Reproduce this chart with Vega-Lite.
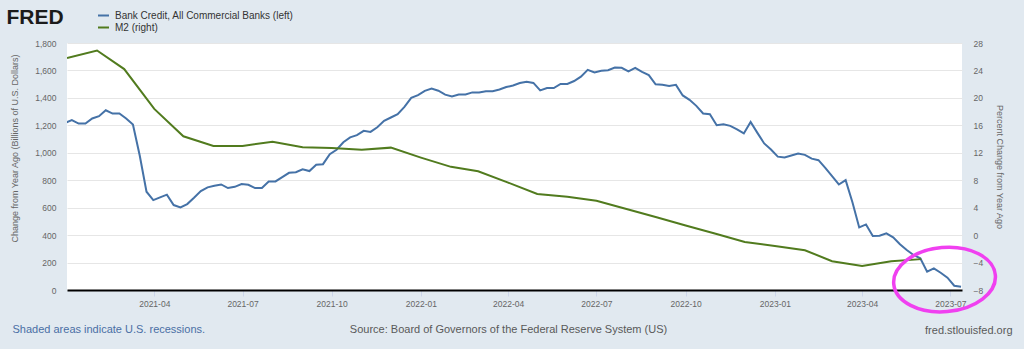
{
  "$schema": "https://vega.github.io/schema/vega-lite/v6.json",
  "width": 895,
  "height": 247,
  "autosize": {"type": "none"},
  "padding": {"left": 67, "top": 43, "right": 62, "bottom": 59},
  "background": "#e1e9f0",
  "config": {
    "font": "Liberation Sans",
    "view": {"fill": "#ffffff", "stroke": null},
    "axis": {"labelFont": "Liberation Sans", "titleFont": "Liberation Sans", "labelColor": "#666666", "titleColor": "#666666", "titleFontWeight": "normal", "labelFontSize": 8.5, "titleFontSize": 9}
  },
  "datasets": {
    "bank": [
      {"date": "2020-12-30", "credit": 1218}, {"date": "2021-01-06", "credit": 1238}, {"date": "2021-01-13", "credit": 1213}, {"date": "2021-01-20", "credit": 1213},
      {"date": "2021-01-27", "credit": 1250}, {"date": "2021-02-03", "credit": 1267}, {"date": "2021-02-10", "credit": 1310}, {"date": "2021-02-17", "credit": 1286},
      {"date": "2021-02-24", "credit": 1286}, {"date": "2021-03-03", "credit": 1250}, {"date": "2021-03-10", "credit": 1206}, {"date": "2021-03-17", "credit": 980},
      {"date": "2021-03-24", "credit": 716}, {"date": "2021-03-31", "credit": 655}, {"date": "2021-04-07", "credit": 675}, {"date": "2021-04-14", "credit": 695},
      {"date": "2021-04-21", "credit": 619}, {"date": "2021-04-28", "credit": 602}, {"date": "2021-05-05", "credit": 626}, {"date": "2021-05-12", "credit": 672},
      {"date": "2021-05-19", "credit": 721}, {"date": "2021-05-26", "credit": 748}, {"date": "2021-06-02", "credit": 759}, {"date": "2021-06-09", "credit": 769},
      {"date": "2021-06-16", "credit": 743}, {"date": "2021-06-23", "credit": 752}, {"date": "2021-06-30", "credit": 772}, {"date": "2021-07-07", "credit": 767},
      {"date": "2021-07-14", "credit": 743}, {"date": "2021-07-21", "credit": 743}, {"date": "2021-07-28", "credit": 791}, {"date": "2021-08-04", "credit": 791},
      {"date": "2021-08-11", "credit": 822}, {"date": "2021-08-18", "credit": 854}, {"date": "2021-08-25", "credit": 858}, {"date": "2021-09-01", "credit": 879},
      {"date": "2021-09-08", "credit": 867}, {"date": "2021-09-15", "credit": 913}, {"date": "2021-09-22", "credit": 917}, {"date": "2021-09-29", "credit": 990},
      {"date": "2021-10-06", "credit": 1022}, {"date": "2021-10-13", "credit": 1077}, {"date": "2021-10-20", "credit": 1112}, {"date": "2021-10-27", "credit": 1128},
      {"date": "2021-11-03", "credit": 1160}, {"date": "2021-11-10", "credit": 1152}, {"date": "2021-11-17", "credit": 1186}, {"date": "2021-11-24", "credit": 1233},
      {"date": "2021-12-01", "credit": 1257}, {"date": "2021-12-08", "credit": 1281}, {"date": "2021-12-15", "credit": 1334}, {"date": "2021-12-22", "credit": 1400},
      {"date": "2021-12-29", "credit": 1420}, {"date": "2022-01-05", "credit": 1451}, {"date": "2022-01-12", "credit": 1468}, {"date": "2022-01-19", "credit": 1452},
      {"date": "2022-01-26", "credit": 1424}, {"date": "2022-02-02", "credit": 1411}, {"date": "2022-02-09", "credit": 1424}, {"date": "2022-02-16", "credit": 1425},
      {"date": "2022-02-23", "credit": 1440}, {"date": "2022-03-02", "credit": 1439}, {"date": "2022-03-09", "credit": 1449}, {"date": "2022-03-16", "credit": 1449},
      {"date": "2022-03-23", "credit": 1461}, {"date": "2022-03-30", "credit": 1479}, {"date": "2022-04-06", "credit": 1490}, {"date": "2022-04-13", "credit": 1508},
      {"date": "2022-04-20", "credit": 1517}, {"date": "2022-04-27", "credit": 1509}, {"date": "2022-05-04", "credit": 1455}, {"date": "2022-05-11", "credit": 1472},
      {"date": "2022-05-18", "credit": 1472}, {"date": "2022-05-25", "credit": 1502}, {"date": "2022-06-01", "credit": 1502}, {"date": "2022-06-08", "credit": 1523},
      {"date": "2022-06-15", "credit": 1555}, {"date": "2022-06-22", "credit": 1604}, {"date": "2022-06-29", "credit": 1585}, {"date": "2022-07-06", "credit": 1597},
      {"date": "2022-07-13", "credit": 1602}, {"date": "2022-07-20", "credit": 1621}, {"date": "2022-07-27", "credit": 1619}, {"date": "2022-08-03", "credit": 1594},
      {"date": "2022-08-10", "credit": 1619}, {"date": "2022-08-17", "credit": 1589}, {"date": "2022-08-24", "credit": 1566}, {"date": "2022-08-31", "credit": 1499},
      {"date": "2022-09-07", "credit": 1495}, {"date": "2022-09-14", "credit": 1486}, {"date": "2022-09-21", "credit": 1495}, {"date": "2022-09-28", "credit": 1418},
      {"date": "2022-10-05", "credit": 1386}, {"date": "2022-10-12", "credit": 1342}, {"date": "2022-10-19", "credit": 1286}, {"date": "2022-10-26", "credit": 1281},
      {"date": "2022-11-02", "credit": 1201}, {"date": "2022-11-09", "credit": 1208}, {"date": "2022-11-16", "credit": 1196}, {"date": "2022-11-23", "credit": 1170},
      {"date": "2022-11-30", "credit": 1141}, {"date": "2022-12-07", "credit": 1225}, {"date": "2022-12-14", "credit": 1145}, {"date": "2022-12-21", "credit": 1068},
      {"date": "2022-12-28", "credit": 1024}, {"date": "2023-01-04", "credit": 972}, {"date": "2023-01-11", "credit": 966}, {"date": "2023-01-18", "credit": 980},
      {"date": "2023-01-25", "credit": 995}, {"date": "2023-02-01", "credit": 985}, {"date": "2023-02-08", "credit": 957}, {"date": "2023-02-15", "credit": 946},
      {"date": "2023-02-22", "credit": 890}, {"date": "2023-03-01", "credit": 830}, {"date": "2023-03-08", "credit": 769}, {"date": "2023-03-15", "credit": 801},
      {"date": "2023-03-22", "credit": 640}, {"date": "2023-03-29", "credit": 456}, {"date": "2023-04-05", "credit": 478}, {"date": "2023-04-12", "credit": 393},
      {"date": "2023-04-19", "credit": 395}, {"date": "2023-04-26", "credit": 413}, {"date": "2023-05-03", "credit": 384}, {"date": "2023-05-10", "credit": 333},
      {"date": "2023-05-17", "credit": 291}, {"date": "2023-05-24", "credit": 255}, {"date": "2023-05-31", "credit": 231}, {"date": "2023-06-07", "credit": 133},
      {"date": "2023-06-14", "credit": 158}, {"date": "2023-06-21", "credit": 126}, {"date": "2023-06-28", "credit": 90}, {"date": "2023-07-05", "credit": 31},
      {"date": "2023-07-12", "credit": 24}
    ],
    "m2": [
      {"date": "2021-01-01", "pct": 25.8}, {"date": "2021-02-01", "pct": 26.9}, {"date": "2021-03-01", "pct": 24.2}, {"date": "2021-04-01", "pct": 18.4},
      {"date": "2021-05-01", "pct": 14.4}, {"date": "2021-06-01", "pct": 13.0}, {"date": "2021-07-01", "pct": 13.0}, {"date": "2021-08-01", "pct": 13.6},
      {"date": "2021-09-01", "pct": 12.8}, {"date": "2021-10-01", "pct": 12.7}, {"date": "2021-11-01", "pct": 12.45}, {"date": "2021-12-01", "pct": 12.75},
      {"date": "2022-01-01", "pct": 11.3}, {"date": "2022-02-01", "pct": 9.95}, {"date": "2022-03-01", "pct": 9.3}, {"date": "2022-04-01", "pct": 7.65},
      {"date": "2022-05-01", "pct": 6.0}, {"date": "2022-06-01", "pct": 5.6}, {"date": "2022-07-01", "pct": 5.0}, {"date": "2022-08-01", "pct": 3.8},
      {"date": "2022-09-01", "pct": 2.6}, {"date": "2022-10-01", "pct": 1.4}, {"date": "2022-11-01", "pct": 0.2}, {"date": "2022-12-01", "pct": -1.0},
      {"date": "2023-01-01", "pct": -1.6}, {"date": "2023-02-01", "pct": -2.2}, {"date": "2023-03-01", "pct": -3.8}, {"date": "2023-04-01", "pct": -4.5},
      {"date": "2023-05-01", "pct": -3.8}, {"date": "2023-06-01", "pct": -3.5}
    ],
    "highlight": [
      {"date": "2023-06-25", "level": 76}
    ]
  },
  "layer": [
    {
      "data": {"name": "bank"},
      "mark": {"type": "line", "clip": true, "strokeWidth": 2},
      "encoding": {
        "x": {
          "field": "date", "type": "temporal",
          "scale": {"type": "utc", "domain": [{"year": 2021, "month": 1, "date": 1, "utc": true}, {"year": 2023, "month": 7, "date": 13, "utc": true}]},
          "axis": {
            "orient": "bottom",
            "values": [
              {"year": 2021, "month": 4, "date": 1, "utc": true}, {"year": 2021, "month": 7, "date": 1, "utc": true}, {"year": 2021, "month": 10, "date": 1, "utc": true},
              {"year": 2022, "month": 1, "date": 1, "utc": true}, {"year": 2022, "month": 4, "date": 1, "utc": true}, {"year": 2022, "month": 7, "date": 1, "utc": true},
              {"year": 2022, "month": 10, "date": 1, "utc": true}, {"year": 2023, "month": 1, "date": 1, "utc": true}, {"year": 2023, "month": 4, "date": 1, "utc": true},
              {"year": 2023, "month": 7, "date": 1, "utc": true}
            ],
            "format": "%Y-%m",
            "labelPadding": 3,
            "ticks": true, "tickSize": 6, "tickColor": "#ccd6eb", "tickWidth": 1,
            "domain": true, "domainColor": "#000000", "domainWidth": 2,
            "grid": false,
            "title": "Source: Board of Governors of the Federal Reserve System (US)",
            "titleFontSize": 11, "titleColor": "#595959",
            "titleX": 441, "titleY": 39, "titleAlign": "center", "titleBaseline": "middle"
          }
        },
        "y": {
          "field": "credit", "type": "quantitative",
          "scale": {"domain": [0, 1800], "nice": false, "zero": false},
          "axis": {
            "orient": "left",
            "values": [0, 200, 400, 600, 800, 1000, 1200, 1400, 1600, 1800],
            "format": ",d",
            "labelPadding": 11,
            "ticks": false, "domain": false,
            "grid": true, "gridColor": "#e6e6e6", "gridWidth": 1,
            "title": "Change from Year Ago (Billions of U.S. Dollars)",
            "titleAngle": -90, "titleX": -53, "titleY": 105, "titleAlign": "center", "titleBaseline": "middle"
          }
        },
        "color": {
          "datum": "Bank Credit, All Commercial Banks (left)",
          "scale": {"domain": ["Bank Credit, All Commercial Banks (left)", "M2 (right)"], "range": ["#4572a7", "#517b1e"]},
          "legend": {
            "orient": "none", "legendX": 30, "legendY": -34, "title": null,
            "symbolType": "stroke", "symbolSize": 121, "symbolStrokeWidth": 2,
            "labelFontSize": 10, "labelColor": "#333333", "labelFont": "Liberation Sans", "labelLimit": 0,
            "labelOffset": 5, "rowPadding": 0, "padding": 0
          }
        }
      }
    },
    {
      "data": {"name": "m2"},
      "mark": {"type": "line", "clip": true, "strokeWidth": 2},
      "encoding": {
        "x": {
          "field": "date", "type": "temporal",
          "axis": {
            "orient": "bottom", "labels": false, "ticks": false, "domain": false, "grid": false,
            "title": "Shaded areas indicate U.S. recessions.",
            "titleFontSize": 11, "titleColor": "#4a6fa5",
            "titleX": -55, "titleY": 39, "titleAlign": "left", "titleBaseline": "middle"
          }
        },
        "y": {
          "field": "pct", "type": "quantitative",
          "scale": {"domain": [-8, 28], "nice": false, "zero": false},
          "axis": {
            "orient": "right",
            "values": [-8, -4, 0, 4, 8, 12, 16, 20, 24, 28],
            "labelAlign": "left", "labelPadding": 11,
            "ticks": false, "domain": false, "grid": false,
            "title": "Percent Change from Year Ago",
            "titleAngle": 90, "titleX": 37, "titleY": 123.5, "titleAlign": "center", "titleBaseline": "middle"
          }
        },
        "color": {"datum": "M2 (right)"}
      }
    },
    {
      "data": {"name": "highlight"},
      "mark": {
        "type": "point",
        "shape": "M-1,0A1,0.63,0,1,0,1,0A1,0.63,0,1,0,-1,0Z",
        "size": 10404,
        "angle": -5,
        "filled": false,
        "color": "#f040f0",
        "strokeWidth": 3.5,
        "opacity": 1,
        "clip": false
      },
      "encoding": {
        "x": {
          "field": "date", "type": "temporal",
          "axis": {
            "orient": "top", "labels": false, "ticks": false, "domain": false, "grid": false,
            "title": "FRED",
            "titleFontSize": 21, "titleFontWeight": 900, "titleColor": "#1b1b1b",
            "titleX": -61, "titleY": -20, "titleAlign": "left", "titleBaseline": "alphabetic"
          }
        },
        "y": {
          "field": "level", "type": "quantitative",
          "scale": {"domain": [0, 1800], "nice": false, "zero": false},
          "axis": {
            "orient": "right", "labels": false, "ticks": false, "domain": false, "grid": false,
            "title": "fred.stlouisfed.org",
            "titleFontSize": 11, "titleColor": "#595959",
            "titleAngle": 0, "titleX": 50, "titleY": 287, "titleAlign": "right", "titleBaseline": "middle"
          }
        }
      }
    }
  ],
  "resolve": {"scale": {"y": "independent"}, "axis": {"x": "independent", "y": "independent"}}
}
